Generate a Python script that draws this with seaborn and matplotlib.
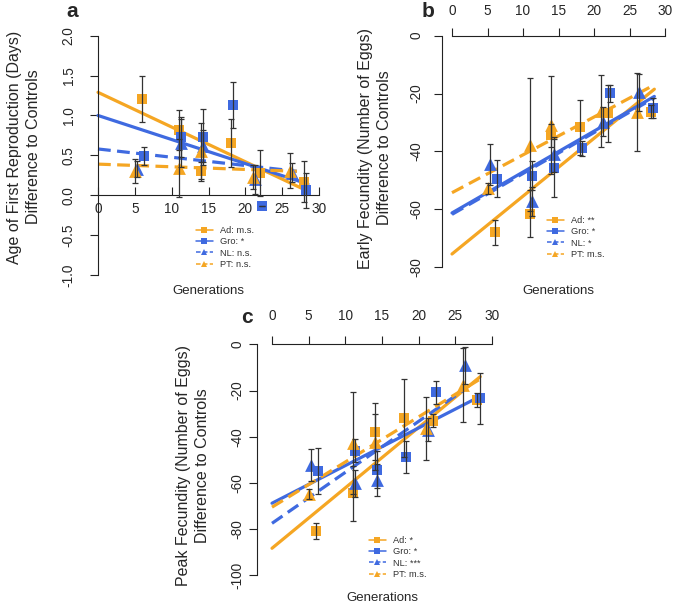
import matplotlib
matplotlib.use("Agg")
import matplotlib.pyplot as plt
import seaborn as sns
import pandas as pd
from matplotlib.lines import Line2D

sns.set_style("white")
plt.rcParams["font.family"] = ["Liberation Sans", "DejaVu Sans"]
plt.rcParams["axes.unicode_minus"] = False

ORANGE = "#F5A623"
BLUE = "#3F6AE0"
W, H = 675, 607

groups = ["Ad", "Gro", "NL", "PT"]
colors = [ORANGE, BLUE, BLUE, ORANGE]
markers = ["s", "s", "^", "^"]
styles = ["-", "-", (0, (4, 2)), (0, (4, 2))]

# generations (blue series are shifted slightly right in the original)
x_ad = [6, 11, 14, 18, 22, 28]
x_gro = [6.3, 11.3, 14.3, 18.3, 22.3, 28.3]
x_nl = [5.3, 11.3, 14.3, 21.3, 26.3]
x_pt = [5, 11, 14, 21, 26]

# panel a: age at first reproduction
a_ad = [1.21, 0.82, 0.30, 0.65, 0.28, 0.17]
a_ad_err = [0.29, 0.25, 0.12, 0.30, 0.29, 0.26]
a_gro = [0.49, 0.73, 0.73, 1.13, -0.13, 0.06]
a_gro_err = [0.11, 0.25, 0.35, 0.29, 0.0, 0.22]
a_nl = [0.33, 0.66, 0.62, 0.20, 0.28]
a_nl_err = [0.10, 0.30, 0.20, 0.18, 0.12]
a_pt = [0.30, 0.34, 0.55, 0.23, 0.31]
a_pt_err = [0.15, 0.36, 0.35, 0.15, 0.22]
a_fit_start = [1.29, 1.00, 0.58, 0.39]
a_fit_end = [0.05, 0.14, 0.30, 0.30]
a_fit_xend = [28.5, 28.5, 27, 27]
a_legend = ["Ad: m.s.", "Gro: *", "NL: n.s.", "PT: n.s."]

# panel b: early fecundity
b_ad = [-68.0, -61.5, -34.4, -31.7, -26.9, -26.3]
b_ad_err = [4.3, 8.0, 4.0, 9.5, 9.8, 2.3]
b_gro = [-49.4, -48.5, -45.9, -39.0, -19.9, -24.9]
b_gro_err = [6.5, 5.0, 10.0, 2.5, 3.0, 3.5]
b_nl = [-44.5, -57.2, -41.0, -29.7, -19.6]
b_nl_err = [7.0, 5.0, 6.0, 5.0, 6.5]
b_pt = [-52.8, -37.8, -30.9, -26.0, -26.3]
b_pt_err = [2.0, 23.0, 17.0, 12.4, 13.5]
b_fit_start = [-75.5, -61.3, -61.8, -54.3]
b_fit_end = [-18.5, -21.0, -21.5, -17.0]
b_fit_xend = [28.5, 28.5, 28.5, 28.5]
b_legend = ["Ad: **", "Gro: *", "NL: *", "PT: m.s."]

# panel c: peak fecundity
c_ad = [-80.7, -64.5, -37.8, -31.8, -33.0, -24.0]
c_ad_err = [3.5, 12.0, 12.5, 16.8, 3.0, 3.0]
c_gro = [-54.7, -46.0, -54.4, -48.9, -20.8, -23.4]
c_gro_err = [10.0, 5.0, 8.0, 7.0, 5.0, 11.0]
c_nl = [-52.3, -60.2, -58.7, -37.0, -9.0]
c_nl_err = [7.0, 6.0, 7.0, 5.0, 8.0]
c_pt = [-64.8, -42.6, -42.2, -36.4, -17.6]
c_pt_err = [2.0, 22.0, 12.0, 13.7, 16.0]
c_fit_start = [-88.3, -68.8, -77.5, -70.5]
c_fit_end = [-14.0, -22.5, -19.0, -15.0]
c_fit_xend = [28.4, 28.4, 26.5, 28.4]
c_legend = ["Ad: *", "Gro: *", "NL: ***", "PT: m.s."]


def rect(x0px, x30px, ya, yapx, yb, ybpx, xlim, ylim):
    sx = (x30px - x0px) / 30.0
    left = x0px + xlim[0] * sx
    right = x0px + xlim[1] * sx
    sy = (ybpx - yapx) / (yb - ya)
    top = yapx + (ylim[1] - ya) * sy
    bottom = yapx + (ylim[0] - ya) * sy
    return [left / W, 1 - bottom / H, (right - left) / W, (bottom - top) / H]


def draw(ax, xs, ys, errs, fit_start, fit_end, fit_xend):
    for i, g in enumerate(groups):
        sns.lineplot(x=[0, fit_xend[i]], y=[fit_start[i], fit_end[i]], ax=ax,
                     color=colors[i], lw=2.3, linestyle=styles[i], zorder=2)
    for i, g in enumerate(groups):
        df = pd.DataFrame({"gen": xs[i], "val": ys[i]})
        size = 50 if markers[i] == "s" else 85
        sns.scatterplot(data=df, x="gen", y="val", ax=ax, color=colors[i],
                        marker=markers[i], s=size, linewidth=0, zorder=3,
                        clip_on=False)
        ax.errorbar(xs[i], ys[i], yerr=errs[i], fmt="none", ecolor="#333333",
                    elinewidth=0.9, capsize=2, capthick=0.9, zorder=4,
                    clip_on=False)
    ax.set_xlabel("")
    ax.set_ylabel("")


def style_axes(ax, spine_x, ybounds, yticks, ylabels, top, xpad, ypad):
    for s in ["left", "right", "top", "bottom"]:
        ax.spines[s].set_visible(False)
    ax.spines["left"].set_visible(True)
    ax.spines["left"].set_position(("data", spine_x))
    ax.spines["left"].set_bounds(*ybounds)
    side = "top" if top else "bottom"
    ax.spines[side].set_visible(True)
    ax.spines[side].set_position(("data", 0))
    ax.spines[side].set_bounds(0, 30)
    for s in ["left", side]:
        ax.spines[s].set_linewidth(0.8)
        ax.spines[s].set_color("#222222")
    ax.xaxis.set_ticks_position(side)
    ax.yaxis.set_ticks_position("left")
    ax.set_xticks(range(0, 31, 5))
    ax.set_xticklabels([str(v) for v in range(0, 31, 5)])
    ax.set_yticks(yticks)
    ax.set_yticklabels(ylabels)
    ax.tick_params(axis="x", direction="out" if top else "in", length=6,
                   width=0.8, pad=xpad, labelsize=9.8, color="#222222")
    ax.tick_params(axis="y", direction="out", length=6, width=0.8, pad=ypad,
                   labelsize=9.8, labelrotation=90, color="#222222")
    for lab in ax.get_yticklabels():
        lab.set_va("center")
    ax.patch.set_alpha(0)
    ax.grid(False)


def add_legend(ax, labels, xpx, ypx):
    handles = []
    for i in range(4):
        handles.append(Line2D([0], [0], color=colors[i], lw=1.1,
                              linestyle="-" if i < 2 else (0, (3, 1.5)),
                              marker=markers[i], ms=3.8 if i < 2 else 4.5,
                              markeredgewidth=0))
    leg = ax.legend(handles, labels, loc="upper left",
                    bbox_to_anchor=(xpx / W, 1 - ypx / H),
                    bbox_transform=ax.figure.transFigure, frameon=False,
                    fontsize=6.7, handlelength=1.8, handletextpad=0.8,
                    labelspacing=0.25, borderpad=0, borderaxespad=0)
    for t in leg.get_texts():
        t.set_color("#333333")


fig = plt.figure(figsize=(6.75, 6.07), dpi=100)

# panel a
ax_a = fig.add_axes(rect(98, 319, 2, 35.7, -1, 275, (-0.5, 31), (-1.1, 2.1)))
draw(ax_a, [x_ad, x_gro, x_nl, x_pt], [a_ad, a_gro, a_nl, a_pt],
     [a_ad_err, a_gro_err, a_nl_err, a_pt_err], a_fit_start, a_fit_end, a_fit_xend)
ax_a.set_xlim(-0.5, 31)
ax_a.set_ylim(-1.1, 2.1)
yt = [-1.0, -0.5, 0.0, 0.5, 1.0, 1.5, 2.0]
style_axes(ax_a, 0, (-1, 2), yt, [f"{v:.1f}" for v in yt], False, 5, 10)
add_legend(ax_a, a_legend, 196, 226)

# panel b
ax_b = fig.add_axes(rect(452, 665, 0, 35.7, -80, 267, (-2, 31), (-83, 2)))
draw(ax_b, [x_ad, x_gro, x_nl, x_pt], [b_ad, b_gro, b_nl, b_pt],
     [b_ad_err, b_gro_err, b_nl_err, b_pt_err], b_fit_start, b_fit_end, b_fit_xend)
ax_b.set_xlim(-2, 31)
ax_b.set_ylim(-83, 2)
yt = [-80, -60, -40, -20, 0]
style_axes(ax_b, -1.4, (-80, 0), yt, [str(v) for v in yt], True, 7, 7.3)
add_legend(ax_b, b_legend, 547, 216)

# panel c
ax_c = fig.add_axes(rect(272, 492, 0, 344.3, -100, 575.3, (-2.5, 31), (-103, 2)))
draw(ax_c, [x_ad, x_gro, x_nl, x_pt], [c_ad, c_gro, c_nl, c_pt],
     [c_ad_err, c_gro_err, c_nl_err, c_pt_err], c_fit_start, c_fit_end, c_fit_xend)
ax_c.set_xlim(-2.5, 31)
ax_c.set_ylim(-103, 2)
yt = [-100, -80, -60, -40, -20, 0]
style_axes(ax_c, -2.0, (-100, 0), yt, [str(v) for v in yt], True, 9, 3)
add_legend(ax_c, c_legend, 369, 536)

# panel letters
fig.text(72 / W, 1 - 17 / H, "a", fontsize=15, weight="bold", ha="center", va="baseline")
fig.text(428 / W, 1 - 17 / H, "b", fontsize=15, weight="bold", ha="center", va="baseline")
fig.text(247 / W, 1 - 323 / H, "c", fontsize=15, weight="bold", ha="center", va="baseline")

# axis titles
ylab_kw = dict(rotation=90, ha="center", va="center", multialignment="center",
               fontsize=11.5, linespacing=1.3)
fig.text(24 / W, 1 - 147 / H, "Age of First Reproduction (Days)\nDifference to Controls", **ylab_kw)
fig.text(375 / W, 1 - 148 / H, "Early Fecundity (Number of Eggs)\nDifference to Controls", **ylab_kw)
fig.text(193 / W, 1 - 466 / H, "Peak Fecundity (Number of Eggs)\nDifference to Controls", **ylab_kw)

fig.text(208 / W, 1 - 291 / H, "Generations", fontsize=9.5, ha="center", va="center")
fig.text(558 / W, 1 - 291 / H, "Generations", fontsize=9.5, ha="center", va="center")
fig.text(382 / W, 1 - 598 / H, "Generations", fontsize=9.5, ha="center", va="center")

fig.savefig("out.png", dpi=100)
